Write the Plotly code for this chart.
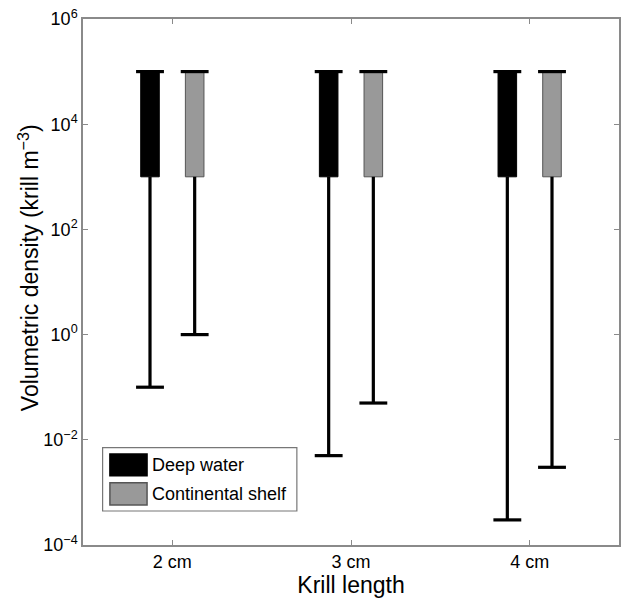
import plotly.graph_objects as go

# Krill density ranges by length class and habitat
lengths = ["2 cm", "3 cm", "4 cm"]
series = ["Deep water", "Continental shelf"]
box_low = {"Deep water": [1e3, 1e3, 1e3], "Continental shelf": [1e3, 1e3, 1e3]}
box_high = {"Deep water": [1e5, 1e5, 1e5], "Continental shelf": [1e5, 1e5, 1e5]}
minimum = {"Deep water": [0.1, 0.005, 0.0003], "Continental shelf": [1.0, 0.05, 0.003]}
colors = {"Deep water": "#000000", "Continental shelf": "#999999"}
outline = {"Deep water": "#000000", "Continental shelf": "#555555"}
y_ticks = [1e-4, 1e-2, 1e0, 1e2, 1e4, 1e6]
y_ticktext = ["10<sup>\u22124</sup>", "10<sup>\u22122</sup>", "10<sup>0</sup>",
              "10<sup>2</sup>", "10<sup>4</sup>", "10<sup>6</sup>"]

offsets = {"Deep water": -0.125, "Continental shelf": 0.125}
bar_w = 0.104
cap_half = 0.078

fig = go.Figure()

for s in series:
    xs = [i + 1 + offsets[s] for i in range(len(lengths))]
    fig.add_trace(go.Bar(
        x=xs, y=[h - l for h, l in zip(box_high[s], box_low[s])], base=box_low[s],
        width=bar_w, marker=dict(color=colors[s], line=dict(color=outline[s], width=1)),
        showlegend=False, hoverinfo="skip"))

for s in series:
    xs = [i + 1 + offsets[s] for i in range(len(lengths))]
    wx, wy = [], []
    for x, lo, mn, hi in zip(xs, box_low[s], minimum[s], box_high[s]):
        # lower whisker with end cap
        wx += [x, x, None, x - cap_half, x + cap_half, None]
        wy += [lo, mn, None, mn, mn, None]
        # upper cap
        wx += [x - cap_half, x + cap_half, None]
        wy += [hi, hi, None]
    fig.add_trace(go.Scatter(x=wx, y=wy, mode="lines",
                             line=dict(color="black", width=3.2),
                             showlegend=False, hoverinfo="skip"))

# Legend box
fig.add_shape(type="rect", xref="paper", yref="paper", x0=0.0366, x1=0.399, y0=0.0646, y1=0.185,
              line=dict(color="#777777", width=1.2), fillcolor="white")
legend_rows = [(0.1317, 0.173, 0.152), (0.076, 0.1184, 0.097)]
for s, (y0, y1, yc) in zip(series, legend_rows):
    fig.add_shape(type="rect", xref="paper", yref="paper", x0=0.0502, x1=0.1195, y0=y0, y1=y1,
                  line=dict(color=outline[s], width=1.5), fillcolor=colors[s])
    fig.add_annotation(xref="paper", yref="paper", x=0.1258, y=yc, text=s, showarrow=False,
                       xanchor="left", yanchor="middle",
                       font=dict(family="Liberation Sans, Arial", size=18, color="black"))

# Y-axis title, placed as a rotated annotation
fig.add_annotation(xref="paper", yref="paper", x=-0.102, y=0.527, textangle=-90,
                   text="Volumetric density (krill m<sup>\u22123</sup>)", showarrow=False,
                   xanchor="center", yanchor="middle",
                   font=dict(family="Liberation Sans, Arial", size=23, color="black"))

axis_common = dict(showline=True, linecolor="#8a8a8a", linewidth=1.5, mirror="ticks",
                   ticks="inside", ticklen=5, tickcolor="#8a8a8a", showgrid=False,
                   zeroline=False)

fig.update_layout(
    width=627, height=603,
    margin=dict(l=83, r=6, t=19, b=58),
    plot_bgcolor="white", paper_bgcolor="white",
    barmode="overlay",
    font=dict(family="Liberation Sans, Arial", color="black"),
    xaxis=dict(range=[0.5, 3.5], tickmode="array", tickvals=[1, 2, 3], ticktext=lengths,
               tickfont=dict(size=18), title=dict(text="Krill length", font=dict(size=23), standoff=4),
               **axis_common),
    yaxis=dict(type="log", range=[-4, 6], tickmode="array", tickvals=y_ticks, ticktext=y_ticktext,
               tickfont=dict(size=18), **axis_common),
)

fig.write_html("out.html")
